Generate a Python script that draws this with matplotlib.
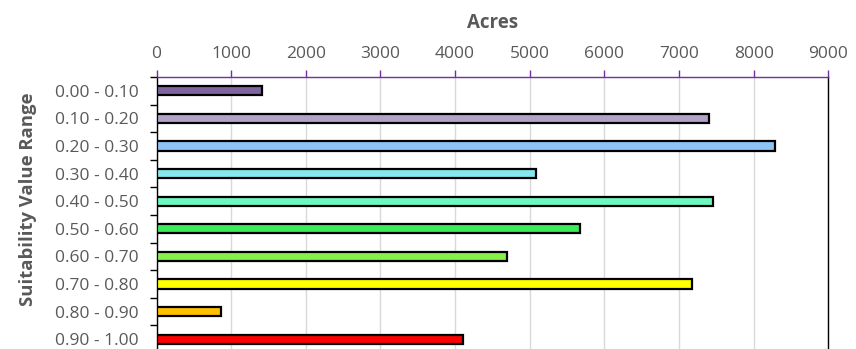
"""Horizontal bar chart of acreage per suitability value range."""

import matplotlib.pyplot as plt

ranges = [
    "0.00 - 0.10", "0.10 - 0.20", "0.20 - 0.30", "0.30 - 0.40", "0.40 - 0.50",
    "0.50 - 0.60", "0.60 - 0.70", "0.70 - 0.80", "0.80 - 0.90", "0.90 - 1.00",
]
acres = [1420, 7400, 8290, 5080, 7450, 5670, 4690, 7170, 870, 4100]
bar_colors = [
    "#8064A2", "#B3A2C7", "#8EC3F5", "#84E8EE", "#6EF8C0",
    "#3AEC5A", "#86F04A", "#FFFF00", "#FFC000", "#FF0000",
]
x_ticks = list(range(0, 10000, 1000))

TEXT = "#595959"
PURPLE = "#7030A0"

plt.rcParams["font.family"] = ["Open Sans", "DejaVu Sans"]

fig = plt.figure(figsize=(8.56, 3.49), dpi=100)
# plot area runs slightly past the bottom edge of the figure
ax = fig.add_axes([156.5 / 856, -4 / 349, (828.3 - 156.5) / 856, (353 - 77) / 349])

ypos = list(range(len(ranges)))
ax.barh(ypos, acres, height=0.34, color=bar_colors,
        edgecolor="black", linewidth=1.6, zorder=3)

ax.set_xlim(0, 9000)
ax.set_ylim(len(ranges) - 0.5, -0.5)

# x axis on top
ax.xaxis.tick_top()
ax.xaxis.set_label_position("top")
ax.set_xticks(x_ticks)
ax.tick_params(axis="x", colors=PURPLE, direction="out", length=5,
               width=1, labelcolor=TEXT, labelsize=12.5, pad=6)
ax.set_xlabel("Acres", fontsize=13.5, fontweight="bold", color=TEXT, labelpad=13)
ax.grid(axis="x", color="#D9D9D9", linewidth=1, zorder=0)

# category ticks sit between the bars, labels sit on the bars
ax.set_yticks([y + 0.5 for y in ypos[:-1]] + [-0.5])
ax.set_yticklabels([])
ax.set_yticks(ypos, minor=True)
ax.set_yticklabels(ranges, minor=True)
ax.tick_params(axis="y", which="major", direction="out", length=5,
               width=1, color="black")
ax.tick_params(axis="y", which="minor", length=0, labelcolor=TEXT,
               labelsize=12.5, pad=13)
ax.set_ylabel("Suitability Value Range", fontsize=13.3, fontweight="bold",
              color=TEXT)
ax.yaxis.set_label_coords(-0.178, 0.558)

ax.spines["top"].set_color(PURPLE)
ax.spines["left"].set_color("black")
ax.spines["right"].set_color("black")
ax.spines["bottom"].set_visible(False)
for side in ("top", "left", "right"):
    ax.spines[side].set_linewidth(1)

fig.savefig("out.png", dpi=100)
